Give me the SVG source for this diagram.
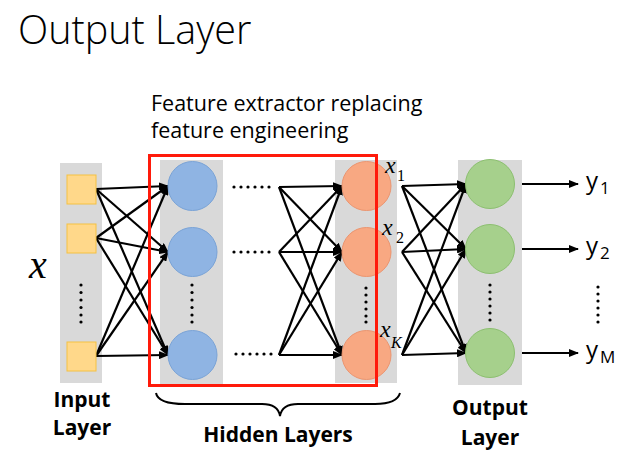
<svg xmlns="http://www.w3.org/2000/svg" width="636" height="457" viewBox="0 0 636 457">
<defs>
<marker id="ah" markerWidth="10" markerHeight="8" refX="9" refY="4" orient="auto" markerUnits="userSpaceOnUse">
<path d="M0,0 L10,4 L0,8 Z" fill="#000"/>
</marker>
<style>
.bar{fill:#d9d9d9}
.sq{fill:#ffd88a;stroke:#f5c242;stroke-width:1}
.blue{fill:#8fb4e3;stroke:#7aa3d6;stroke-width:1}
.orange{fill:#f8a882;stroke:#eb9570;stroke-width:1}
.green{fill:#a6d08c;stroke:#8cbf70;stroke-width:1}
.ln{stroke:#000;stroke-width:2.2;fill:none;marker-end:url(#ah)}
.dot{fill:#000}
.sans{font-family:"Open Sans","Noto Sans","Liberation Sans",sans-serif}
.bold{font-family:"Open Sans","Noto Sans","Liberation Sans",sans-serif;font-weight:bold;font-size:21px;text-anchor:middle}
.ser{font-family:"Liberation Serif","DejaVu Serif",serif;font-style:italic}
</style>
</defs>
<rect width="636" height="457" fill="#fff"/>
<text x="18" y="44" class="sans" font-size="39.5" font-weight="300">Output Layer</text>
<text class="sans" font-size="21.5" x="151" y="111">Feature extractor replacing</text>
<text class="sans" font-size="21.5" x="151" y="138">feature engineering</text>

<g id="bars">
<rect class="bar" x="60" y="163" width="42" height="220"/>
<rect class="bar" x="160" y="160" width="63" height="225"/>
<rect class="bar" x="335" y="160" width="62" height="223"/>
<rect class="bar" x="458" y="160" width="64" height="225"/>
</g>

<g id="connectors">
<line class="ln" x1="96" y1="189" x2="168" y2="186"/>
<line class="ln" x1="96" y1="189" x2="168" y2="252"/>
<line class="ln" x1="96" y1="189" x2="168" y2="355"/>
<line class="ln" x1="96" y1="238" x2="168" y2="186"/>
<line class="ln" x1="96" y1="238" x2="168" y2="252"/>
<line class="ln" x1="96" y1="238" x2="168" y2="355"/>
<line class="ln" x1="96" y1="356" x2="168" y2="186"/>
<line class="ln" x1="96" y1="356" x2="168" y2="252"/>
<line class="ln" x1="96" y1="356" x2="168" y2="355"/>

<line class="ln" x1="279" y1="187" x2="342" y2="186"/>
<line class="ln" x1="279" y1="187" x2="342" y2="252"/>
<line class="ln" x1="279" y1="187" x2="342" y2="355"/>
<line class="ln" x1="279" y1="252" x2="342" y2="186"/>
<line class="ln" x1="279" y1="252" x2="342" y2="252"/>
<line class="ln" x1="279" y1="252" x2="342" y2="355"/>
<line class="ln" x1="279" y1="355" x2="342" y2="186"/>
<line class="ln" x1="279" y1="355" x2="342" y2="252"/>
<line class="ln" x1="279" y1="355" x2="342" y2="355"/>

<line class="ln" x1="402" y1="186" x2="466" y2="184"/>
<line class="ln" x1="402" y1="186" x2="466" y2="249"/>
<line class="ln" x1="402" y1="186" x2="466" y2="353"/>
<line class="ln" x1="402" y1="252" x2="466" y2="184"/>
<line class="ln" x1="402" y1="252" x2="466" y2="249"/>
<line class="ln" x1="402" y1="252" x2="466" y2="353"/>
<line class="ln" x1="402" y1="355" x2="466" y2="184"/>
<line class="ln" x1="402" y1="355" x2="466" y2="249"/>
<line class="ln" x1="402" y1="355" x2="466" y2="353"/>

<line class="ln" x1="522" y1="184" x2="578" y2="184"/>
<line class="ln" x1="522" y1="249" x2="578" y2="249"/>
<line class="ln" x1="522" y1="353" x2="578" y2="353"/>
</g>

<g id="input-layer">
<rect class="sq" x="67" y="175" width="29" height="29"/>
<rect class="sq" x="67" y="224" width="29" height="29"/>
<rect class="sq" x="67" y="342" width="29" height="29"/>
<g class="dot"><circle cx="81" cy="285" r="1.6"/><circle cx="81" cy="292.5" r="1.6"/><circle cx="81" cy="300" r="1.6"/><circle cx="81" cy="307.5" r="1.6"/><circle cx="81" cy="315" r="1.6"/><circle cx="81" cy="322" r="1.6"/></g>
<text x="29" y="278" class="ser" font-size="40">x</text>
<text class="bold"><tspan x="82" y="407">Input</tspan><tspan x="82" y="435">Layer</tspan></text>
</g>

<g id="hidden-layer-1">
<circle class="blue" cx="192.5" cy="186" r="24.5"/>
<circle class="blue" cx="192.5" cy="252" r="24.5"/>
<circle class="blue" cx="192.5" cy="355" r="24.5"/>
<g class="dot"><circle cx="192" cy="285" r="1.6"/><circle cx="192" cy="292.5" r="1.6"/><circle cx="192" cy="300" r="1.6"/><circle cx="192" cy="307.5" r="1.6"/><circle cx="192" cy="315" r="1.6"/><circle cx="192" cy="322" r="1.6"/></g>
</g>

<g id="hidden-dots">
<g class="dot">
<circle cx="234" cy="187" r="1.6"/><circle cx="241" cy="187" r="1.6"/><circle cx="248" cy="187" r="1.6"/><circle cx="255" cy="187" r="1.6"/><circle cx="262" cy="187" r="1.6"/><circle cx="269" cy="187" r="1.6"/>
<circle cx="234" cy="252" r="1.6"/><circle cx="241" cy="252" r="1.6"/><circle cx="248" cy="252" r="1.6"/><circle cx="255" cy="252" r="1.6"/><circle cx="262" cy="252" r="1.6"/><circle cx="269" cy="252" r="1.6"/>
<circle cx="236" cy="354" r="1.6"/><circle cx="243" cy="354" r="1.6"/><circle cx="250" cy="354" r="1.6"/><circle cx="257" cy="354" r="1.6"/><circle cx="264" cy="354" r="1.6"/><circle cx="271" cy="354" r="1.6"/>
</g>
</g>

<g id="hidden-layer-last">
<circle class="orange" cx="366.5" cy="186" r="24.5"/>
<circle class="orange" cx="366.5" cy="252" r="24.5"/>
<circle class="orange" cx="366.5" cy="355" r="24.5"/>
<g class="dot"><circle cx="366" cy="288" r="1.6"/><circle cx="366" cy="295" r="1.6"/><circle cx="366" cy="302" r="1.6"/><circle cx="366" cy="309" r="1.6"/><circle cx="366" cy="316" r="1.6"/><circle cx="366" cy="322" r="1.6"/></g>
<text class="ser" font-size="24"><tspan x="385" y="173">x</tspan><tspan x="397" y="181" font-size="16" font-style="normal">1</tspan></text>
<text class="ser" font-size="24"><tspan x="382" y="235">x</tspan><tspan x="396" y="243" font-size="16" font-style="normal">2</tspan></text>
<text class="ser" font-size="24"><tspan x="380" y="337">x</tspan><tspan x="391" y="348" font-size="16">K</tspan></text>
</g>

<g id="feature-box">
<rect x="149.5" y="155.5" width="227" height="230" fill="none" stroke="#ff1a0a" stroke-width="3"/>
</g>

<g id="brace">
<path d="M156,393 Q158,404 185,404 L262,404 Q278,404 280,416 Q282,404 298,404 L375,404 Q397,404 400,393" fill="none" stroke="#000" stroke-width="2"/>
<text class="bold" x="278" y="442">Hidden Layers</text>
</g>

<g id="output-layer">
<circle class="green" cx="490" cy="184" r="24.5"/>
<circle class="green" cx="490" cy="249" r="24.5"/>
<circle class="green" cx="490" cy="353" r="24.5"/>
<g class="dot"><circle cx="490" cy="285" r="1.6"/><circle cx="490" cy="292" r="1.6"/><circle cx="490" cy="299" r="1.6"/><circle cx="490" cy="306" r="1.6"/><circle cx="490" cy="313" r="1.6"/><circle cx="490" cy="320" r="1.6"/></g>
<text class="bold"><tspan x="490" y="415">Output</tspan><tspan x="490" y="445">Layer</tspan></text>
</g>

<g id="outputs">
<text class="sans" font-size="24"><tspan x="586" y="189">y</tspan><tspan x="600" y="194" font-size="17">1</tspan></text>
<text class="sans" font-size="24"><tspan x="586" y="254">y</tspan><tspan x="600" y="259" font-size="17">2</tspan></text>
<text class="sans" font-size="24"><tspan x="586" y="358">y</tspan><tspan x="600" y="363" font-size="17">M</tspan></text>
<g class="dot"><circle cx="598" cy="287" r="1.6"/><circle cx="598" cy="294" r="1.6"/><circle cx="598" cy="301" r="1.6"/><circle cx="598" cy="308" r="1.6"/><circle cx="598" cy="315" r="1.6"/><circle cx="598" cy="322" r="1.6"/></g>
</g>
</svg>
